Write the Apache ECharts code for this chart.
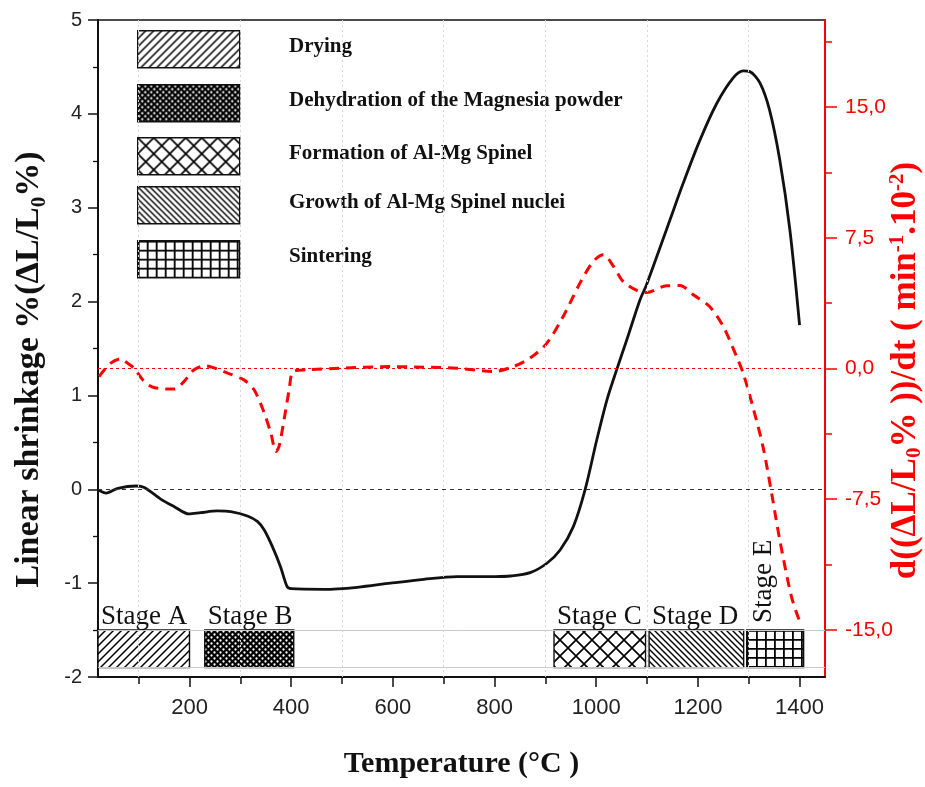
<!DOCTYPE html>
<html>
<head>
<meta charset="utf-8">
<title>Linear shrinkage vs temperature</title>
<script src="https://cdn.jsdelivr.net/npm/echarts@6/dist/echarts.min.js"></script>
<style>
  html, body { margin: 0; padding: 0; background: #fff; }
  #chart { width: 925px; height: 787px; }
</style>
</head>
<body>
<div id="chart"></div>
<script>
// linear shrinkage (left axis, %)
const shrinkT = [22, 36, 59, 95, 111, 144, 170, 199, 222, 255, 281, 314, 334, 347, 363, 379, 392, 400,
  464, 530, 595, 661, 726, 800, 831, 870, 903, 929, 955, 978, 1001, 1021, 1040, 1060, 1086, 1099,
  1145, 1171, 1204, 1237, 1269, 1289, 1302, 1322, 1341, 1361, 1381, 1400];
const shrinkV = [-0.01, -0.04, 0.01, 0.035, 0.02, -0.107, -0.185, -0.263, -0.249, -0.231, -0.238, -0.284,
  -0.345, -0.434, -0.611, -0.825, -1.038, -1.059, -1.066, -1.044, -1.0, -0.959, -0.931, -0.93, -0.924,
  -0.888, -0.788, -0.647, -0.398, -0.007, 0.525, 0.951, 1.27, 1.59, 2.016, 2.18, 2.87, 3.26, 3.72, 4.11,
  4.38, 4.457, 4.45, 4.33, 4.04, 3.51, 2.76, 1.75];

// shrinkage rate (right axis, min^-1 .10^-2)
const rateT = [22, 45, 65, 78, 91, 111, 130, 170, 189, 209, 232, 255, 275, 307, 327, 346, 360, 370, 376,
  386, 396, 404, 432, 497, 595, 661, 726, 798, 837, 870, 903, 935, 968, 994, 1014, 1034, 1053, 1080,
  1099, 1138, 1165, 1191, 1223, 1250, 1276, 1289, 1308, 1328, 1345, 1361, 1384, 1400];
const rateV = [-0.46, 0.31, 0.56, 0.31, 0.02, -0.75, -1.09, -1.18, -0.75, -0.07, 0.155, -0.03, -0.26, -0.65,
  -1.22, -2.47, -3.71, -4.76, -4.48, -2.94, -1.22, -0.17, -0.07, 0.02, 0.11, 0.08, 0.02, -0.17, 0.11, 0.6,
  1.46, 2.99, 4.9, 6.14, 6.53, 5.86, 4.99, 4.48, 4.36, 4.75, 4.76, 4.23, 3.56, 2.41, 0.69, -0.26, -2.18,
  -4.48, -7.15, -9.83, -13.09, -14.5];

const xTicks = [200, 400, 600, 800, 1000, 1200, 1400];
const xMinorTicks = [100, 300, 500, 700, 900, 1100, 1300];
const rightTicks = [-15, -7.5, 0, 7.5, 15];
const rightMinorTicks = [-11.25, -3.75, 3.75, 11.25, 18.75];

// stage bars along the bottom
const stageNames = ['Stage A', 'Stage B', 'Stage C', 'Stage D', 'Stage E'];
const stageStart = [20, 230, 917, 1104, 1296];
const stageEnd = [200, 405, 1097, 1290, 1408];
const stageBand = [-1.9, -1.5];
const stageHatch = ['fwd', 'dots', 'diamond', 'back', 'grid'];

const legendLabels = ['Drying', 'Dehydration of the Magnesia powder', 'Formation of Al-Mg Spinel',
  'Growth of Al-Mg Spinel nuclei', 'Sintering'];
const legendHatch = ['fwd', 'dots', 'diamond', 'back', 'grid'];

const RED = '#ff0000';
const INK = '#111';
const SERIF = '"Liberation Serif", "Times New Roman", serif';
const SANS = '"Liberation Sans", Arial, sans-serif';

// small canvas tiles used as hatch fills
function makeHatch(kind) {
  const c = document.createElement('canvas');
  const ctx = c.getContext('2d');
  const size = { fwd: 8, dots: 6, diamond: 16, back: 6, grid: 9 }[kind];
  c.width = c.height = size;
  ctx.fillStyle = kind === 'dots' ? '#000' : '#fff';
  ctx.fillRect(0, 0, size, size);
  ctx.strokeStyle = '#000';
  const seg = (x1, y1, x2, y2) => { ctx.moveTo(x1, y1); ctx.lineTo(x2, y2); };
  ctx.beginPath();
  if (kind === 'fwd') {
    ctx.lineWidth = 1.5;
    seg(-1, size + 1, size + 1, -1);
    seg(-2, 2, 2, -2);
    seg(size - 2, size + 2, size + 2, size - 2);
    ctx.stroke();
  } else if (kind === 'back') {
    ctx.lineWidth = 1.4;
    seg(-1, -1, size + 1, size + 1);
    seg(-2, size - 2, 2, size + 2);
    seg(size - 2, -2, size + 2, 2);
    ctx.stroke();
  } else if (kind === 'diamond') {
    ctx.lineWidth = 1.7;
    seg(-1, -1, size + 1, size + 1);
    seg(-1, size + 1, size + 1, -1);
    ctx.stroke();
  } else if (kind === 'grid') {
    ctx.lineWidth = 1.8;
    seg(0.9, 0, 0.9, size);
    seg(0, 0.9, size, 0.9);
    ctx.stroke();
  } else if (kind === 'dots') {
    ctx.fillStyle = '#fff';
    ctx.arc(1.5, 1.5, 1.15, 0, Math.PI * 2);
    ctx.moveTo(5.65, 4.5);
    ctx.arc(4.5, 4.5, 1.15, 0, Math.PI * 2);
    ctx.fill();
  }
  return { image: c, repeat: 'repeat' };
}

const hatchFill = {};
['fwd', 'dots', 'diamond', 'back', 'grid'].forEach((k) => { hatchFill[k] = makeHatch(k); });

const LEGEND_Y = [30, 84, 137, 186, 240];
const legendGraphic = [];
legendLabels.forEach((label, i) => {
  legendGraphic.push({
    type: 'rect',
    left: 137, top: LEGEND_Y[i],
    shape: { width: 102, height: 37 },
    style: { fill: hatchFill[legendHatch[i]], stroke: INK, lineWidth: 1.4 },
    silent: true,
  });
  legendGraphic.push({
    type: 'text',
    x: 289, y: LEGEND_Y[i] + 17,
    style: { text: label, font: 'bold 21px ' + SERIF, fill: INK, verticalAlign: 'middle' },
    silent: true,
  });
});

const chart = echarts.init(document.getElementById('chart'), null, { renderer: 'canvas' });

chart.setOption({
  animation: false,
  backgroundColor: '#fff',
  grid: {
    left: 98, right: 100, top: 20, bottom: 110,
    outerBoundsMode: 'none',
    show: true, borderColor: INK, borderWidth: 1.5,
  },
  graphic: legendGraphic,
  xAxis: [
    {
      type: 'value', min: 20, max: 1450, position: 'bottom',
      name: 'Temperature (°C )', nameLocation: 'middle', nameGap: 72,
      nameTextStyle: { fontFamily: SERIF, fontWeight: 'bold', fontSize: 30, color: INK },
      axisLine: { onZero: false, lineStyle: { color: INK, width: 2 } },
      axisTick: { customValues: xTicks, length: 10, lineStyle: { color: INK, width: 1.5 } },
      axisLabel: {
        customValues: xTicks, fontFamily: SANS, fontSize: 22, color: '#222', margin: 20,
        formatter: (v) => String(v),
      },
      splitLine: { show: false },
    },
    {
      type: 'value', min: 20, max: 1450, position: 'bottom',
      axisLine: { show: false, onZero: false },
      axisTick: { customValues: xMinorTicks, length: 7, lineStyle: { color: INK, width: 1.5 } },
      axisLabel: { show: false },
      splitLine: { show: false },
    },
  ],
  yAxis: [
    {
      type: 'value', min: -2, max: 5, interval: 1, position: 'left',
      name: '{t|Linear shrinkage %(ΔL/L}{s|0}{t|%)}',
      nameLocation: 'middle', nameGap: 48, nameRotate: 90, nameMoveOverlap: false,
      nameTextStyle: {
        padding: [0, 42, 0, 0],
        rich: {
          t: { fontFamily: SERIF, fontWeight: 'bold', fontSize: 34, color: INK, lineHeight: 42 },
          s: { fontFamily: SERIF, fontWeight: 'bold', fontSize: 21, color: INK, lineHeight: 21, verticalAlign: 'bottom' },
        },
      },
      axisLine: { show: true, onZero: false, lineStyle: { color: INK, width: 2 } },
      axisTick: { show: true, length: 10, lineStyle: { color: INK, width: 1.5 } },
      minorTick: { show: true, splitNumber: 2, length: 5, lineStyle: { color: INK, width: 1.3 } },
      axisLabel: { fontFamily: SANS, fontSize: 20, color: '#222', margin: 16 },
      splitLine: { show: false },
    },
    {
      type: 'value', min: -17.7, max: 20, position: 'right',
      name: '{t|d((ΔL/L}{s|0}{t|% ))/dt ( min}{p|-1}{t|.10}{p|-2}{t|)}',
      nameLocation: 'middle', nameGap: 62, nameRotate: 90, nameMoveOverlap: false,
      nameTextStyle: {
        padding: [0, 44, 0, 0],
        rich: {
          t: { fontFamily: SERIF, fontWeight: 'bold', fontSize: 35, color: RED, lineHeight: 38 },
          s: { fontFamily: SERIF, fontWeight: 'bold', fontSize: 21, color: RED, lineHeight: 21, verticalAlign: 'bottom' },
          p: { fontFamily: SERIF, fontWeight: 'bold', fontSize: 21, color: RED, lineHeight: 21, verticalAlign: 'top' },
        },
      },
      axisLine: { show: true, onZero: false, lineStyle: { color: RED, width: 2 } },
      axisTick: { show: true, customValues: rightTicks, length: 12, lineStyle: { color: RED, width: 1.5 } },
      axisLabel: {
        customValues: rightTicks, fontFamily: SANS, fontSize: 21, color: RED, margin: 20,
        formatter: (v) => v.toFixed(1).replace('.', ','),
      },
      splitLine: { show: false },
    },
    {
      type: 'value', min: -17.7, max: 20, position: 'right',
      axisLine: { show: false, onZero: false },
      axisTick: { show: true, customValues: rightMinorTicks, length: 7, lineStyle: { color: RED, width: 1.5 } },
      axisLabel: { show: false },
      splitLine: { show: false },
    },
  ],
  series: [
    {
      name: 'Stages',
      type: 'custom',
      xAxisIndex: 0, yAxisIndex: 0,
      silent: true, clip: false, z: 3,
      encode: { x: [0, 1] },
      data: stageStart.map((s, i) => [s, stageEnd[i], i]),
      renderItem: (params, api) => {
        const i = api.value(2);
        const tl = api.coord([api.value(0), stageBand[1]]);
        const br = api.coord([api.value(1), stageBand[0]]);
        const w = br[0] - tl[0];
        const vertical = w < 70;
        return {
          type: 'group',
          children: [
            {
              type: 'rect',
              shape: { x: tl[0], y: tl[1], width: w, height: br[1] - tl[1] },
              style: { fill: hatchFill[stageHatch[i]], stroke: INK, lineWidth: 1.4 },
            },
            {
              type: 'text',
              x: vertical ? tl[0] + 31 : tl[0] + 3,
              y: vertical ? tl[1] - 7 : tl[1],
              rotation: vertical ? Math.PI / 2 : 0,
              style: {
                text: stageNames[i], font: '27px ' + SERIF, fill: INK,
                align: 'left', verticalAlign: 'bottom',
              },
            },
          ],
        };
      },
    },
    {
      name: 'Linear shrinkage',
      type: 'line',
      xAxisIndex: 0, yAxisIndex: 0,
      data: shrinkT.map((t, i) => [t, shrinkV[i]]),
      showSymbol: false,
      smooth: 0.3,
      z: 4,
      lineStyle: { color: INK, width: 2.8 },
      markLine: {
        silent: true, symbol: 'none', animation: false,
        label: { show: false },
        data: [
          { yAxis: 0, lineStyle: { type: [4, 4], color: '#333', width: 1 } },
          ...stageBand.map((v) => ({ yAxis: v, lineStyle: { type: 'solid', color: '#c8c8c8', width: 1 } })),
          ...xMinorTicks.map((v) => ({ xAxis: v, lineStyle: { type: [2, 3], color: '#d6d6d6', width: 1 } })),
        ],
      },
    },
    {
      name: 'Shrinkage rate',
      type: 'line',
      xAxisIndex: 0, yAxisIndex: 1,
      data: rateT.map((t, i) => [t, rateV[i]]),
      showSymbol: false,
      smooth: 0.3,
      z: 4,
      lineStyle: { color: RED, width: 3, type: [10, 7] },
      markLine: {
        silent: true, symbol: 'none', animation: false,
        label: { show: false },
        data: [{ yAxis: 0, lineStyle: { type: [3, 3], color: RED, width: 1 } }],
      },
    },
  ],
});
</script>
</body>
</html>
